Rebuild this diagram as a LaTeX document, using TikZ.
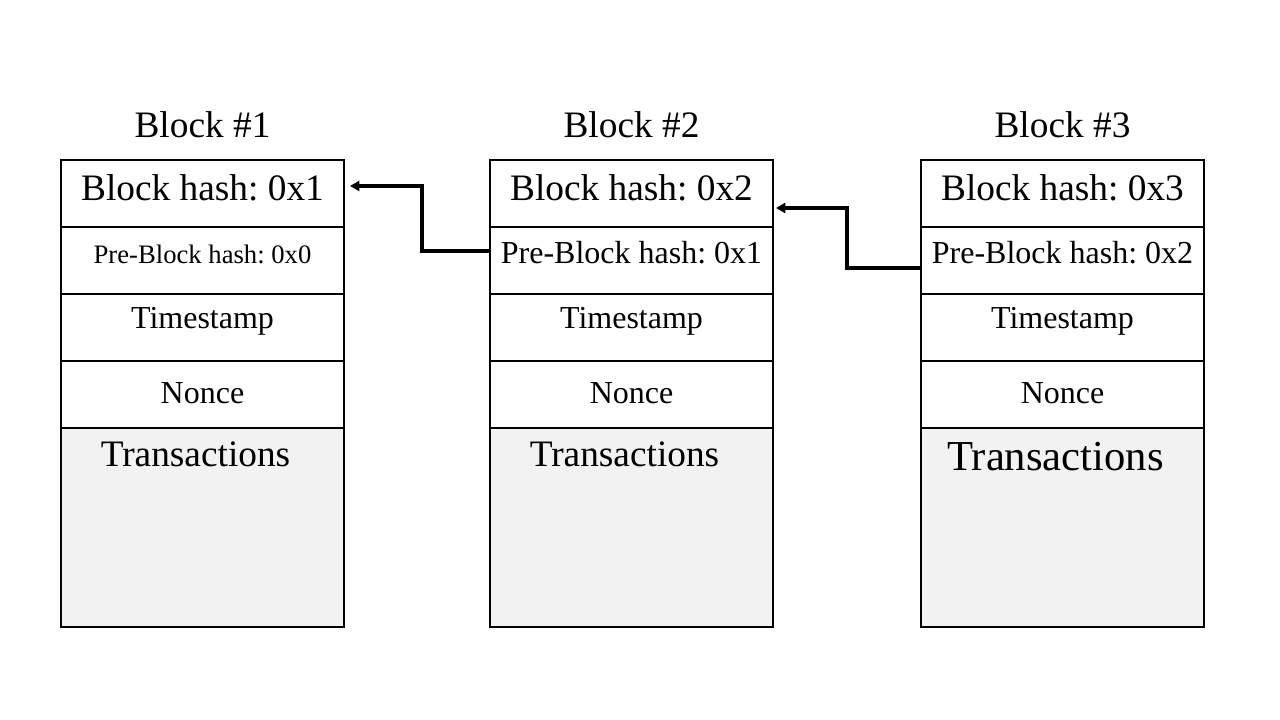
\documentclass[tikz,border=0pt]{standalone}
\usepackage{fontspec}
\setmainfont{Liberation Serif}
\usepackage{tikz}
\usetikzlibrary{positioning,arrows.meta,calc}
\definecolor{txfill}{HTML}{F2F2F2}
\definecolor{inkc}{HTML}{000000}
\newcommand{\fs}[1]{\fontsize{#1}{#1}\selectfont}
\frenchspacing

\begin{document}
\begin{tikzpicture}[x=0.75pt, y=-0.75pt,
        cell/.style={draw=inkc, line width=0.8pt, outer sep=0pt, inner sep=0pt, minimum width=212.25pt, minimum height=50.25pt, text=inkc},
        txcell/.style={cell, fill=txfill, minimum height=149.25pt},
        title/.style={font=\fs{28}, text=inkc, inner sep=0pt},
        txlbl/.style={anchor=north, inner sep=0pt, text=inkc},
        link/.style={-{Triangle[length=7pt, width=7.5pt]}, line width=2.4pt, draw=inkc}]
      \useasboundingbox (0,0) rectangle (1280,720);
      \foreach \x/\n/\m/\pfont/\tfont in {202.5/1/0/20/28, 631.5/2/1/24/28, 1062.5/3/2/24/32}{
        \node[title] (b\n) at (\x,125) {Block \#\n};
        \node[cell, font=\fs{28}, text height=14pt, text depth=2.8pt] (h\n) at (\x,193.5) {Block hash: 0x\n};
        \node[cell, font=\fs{\pfont}, text height=12pt, text depth=7.5pt, below=0pt of h\n] (p\n) {Pre-Block hash: 0x\m};
        \node[cell, font=\fs{24}, text height=12pt, text depth=9.8pt, below=0pt of p\n] (s\n) {Timestamp};
        \node[cell, font=\fs{24}, text height=16pt, text depth=1.8pt, below=0pt of s\n] (n\n) {Nonce};
        \node[txcell, below=0pt of n\n] (t\n) {};
        \node[txlbl, font=\fs{\tfont}] (tl\n) at ($(t\n.north)+(-7,14)$) {Transactions};
      }
      \draw[link] ($(p2.west)+(0,-9.5)$) -- ++(-68,0) |- ($(h1.east)+(6,-7.5)$);
      \draw[link] ($(p3.west)+(0,7.5)$) -- ++(-74,0) |- ($(h2.east)+(3,14.5)$);
    \end{tikzpicture}
\end{document}
